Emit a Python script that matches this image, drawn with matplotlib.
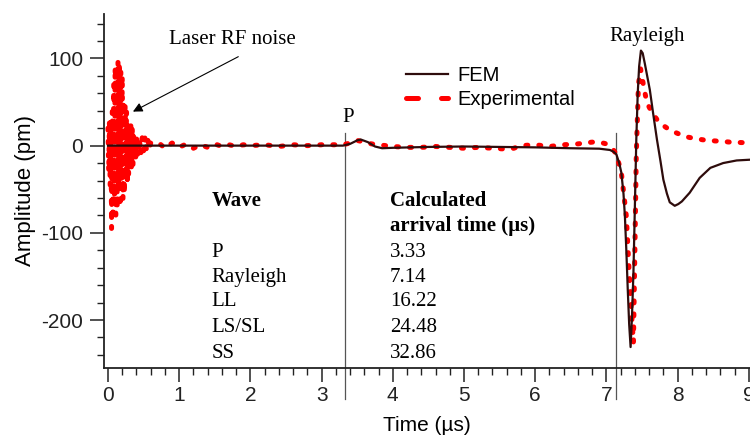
import numpy as np
import matplotlib
matplotlib.use('Agg')
import matplotlib.pyplot as plt
from matplotlib.ticker import MultipleLocator
from matplotlib.lines import Line2D

plt.rcParams['font.family'] = ['Liberation Sans', 'DejaVu Sans']
plt.rcParams['axes.unicode_minus'] = False

# Experimental signal (pm)
t_exp = [0.00, 0.01, 0.02, 0.03, 0.04, 0.05, 0.06, 0.07, 0.08, 0.09,
         0.10, 0.11, 0.12, 0.13, 0.14, 0.15, 0.16, 0.17, 0.18, 0.19,
         0.20, 0.21, 0.22, 0.23, 0.24, 0.25, 0.26, 0.27, 0.28, 0.29,
         0.30, 0.31, 0.32, 0.33, 0.34, 0.35, 0.36, 0.37, 0.38, 0.39,
         0.40, 0.42, 0.44, 0.46, 0.48, 0.50, 0.52, 0.54, 0.56, 0.58,
         0.60, 0.70, 0.80, 0.90, 1.00, 1.10, 1.20, 1.30, 1.40, 1.50,
         1.60, 1.70, 1.80, 1.90, 2.00, 2.20, 2.40, 2.60, 2.80, 3.00,
         3.20, 3.30, 3.40, 3.50, 3.60, 3.70, 3.80, 3.90, 4.00, 4.20,
         4.40, 4.60, 4.80, 5.00, 5.20, 5.40, 5.60, 5.70, 5.80, 6.00,
         6.20, 6.40, 6.60, 6.80, 6.90, 7.00, 7.10, 7.14, 7.21, 7.28,
         7.32, 7.355, 7.38, 7.40, 7.42, 7.45, 7.48, 7.53, 7.57, 7.64,
         7.71, 7.80, 7.89, 8.00, 8.13, 8.25, 8.41, 8.60, 8.74, 8.90, 9.05]
a_exp = [20, -30, 26, -46, 28, -95, 40, -85, 70, -60,
         90, -80, 60, -72, 98, -50, 95, -70, 85, -40,
         80, -62, 50, -55, 45, -30, 40, -45, 25, -35,
         20, -20, 26, -28, 22, -24, 14, -10, 12, -14,
         10, -12, 8, -10, 9, -6, 10, -5, 6, -4,
         3, 4, -3, 3, -2, 2, -3, 1, -2, 2,
         -1, 1, -1, 1, 0, 1, -1, 1, 0, 1,
         1, 1, 3, 6, 4, 2, 1, 0, -1, -2,
         -2, -1, -2, -3, -2, -3, -4, -3, 0, 1,
         -1, 1, 2, 4, 4, 2, -5, -10, -31, -81,
         -145, -195, -226, -120, -10, 70, 88, 65, 49, 38,
         30, 23, 18, 14, 10, 8, 6, 5, 4, 3.5, 3]

# FEM simulation (pm)
t_fem = [0.0, 0.5, 1.0, 2.0, 3.0, 3.3, 3.4, 3.5, 3.55, 3.65,
         3.75, 3.85, 4.0, 4.5, 5.0, 5.5, 6.0, 6.5, 6.9, 7.05,
         7.1, 7.14, 7.18, 7.21, 7.24, 7.26, 7.28, 7.30, 7.32, 7.34,
         7.36, 7.38, 7.40, 7.42, 7.44, 7.46, 7.485, 7.51, 7.54, 7.61,
         7.66, 7.71, 7.76, 7.80, 7.85, 7.89, 7.96, 8.01, 8.06, 8.17,
         8.31, 8.46, 8.64, 8.83, 9.05]
a_fem = [0, 0, 0, 0, 0, 0, 2, 6, 7, 4,
         -1, -3, -2.5, -1.5, -1, -1.5, -2, -3, -3.5, -5,
         -7, -10, -20, -31, -55, -81, -120, -165, -205, -231,
         -195, -145, -70, 7, 60, 91, 109, 106, 94, 64,
         35, 7, -18, -39, -55, -65, -69, -67, -64, -54,
         -37, -25.5, -20, -17, -16]

# arrival times table
waves = ['P', 'Rayleigh', 'LL', 'LS/SL', 'SS']
arrivals = ['3.33', '7.14', '16.22', '24.48', '32.86']
markers_t = [3.33, 7.14]

fem_color = '#2e0c0c'
exp_color = '#ff0000'

fig = plt.figure(figsize=(7.5, 4.36), dpi=100)
ax = fig.add_axes([0.1387, 0.156, 0.8613, 0.812])

ax.plot(t_fem, a_fem, color=fem_color, lw=1.6, zorder=4)
ax.plot(t_exp, a_exp, color=exp_color, lw=3.6, ls=(0, (0.4, 2.2)),
        dash_capstyle='round', zorder=3)

for tm in markers_t:
    ax.plot([tm, tm], [14, -290], color='#555555', lw=0.9, clip_on=False, zorder=2)

ax.set_xlim(-0.056, 9.017)
ax.set_ylim(-255, 151)
ax.spines['top'].set_visible(False)
ax.spines['right'].set_visible(False)
for s in ['left', 'bottom']:
    ax.spines[s].set_linewidth(1.3)
    ax.spines[s].set_color('#222222')

ax.xaxis.set_major_locator(MultipleLocator(1))
ax.xaxis.set_minor_locator(MultipleLocator(0.2))
ax.yaxis.set_major_locator(MultipleLocator(100))
ax.yaxis.set_minor_locator(MultipleLocator(20))
ax.tick_params(which='major', direction='out', length=10, width=1.1,
               labelsize=15, colors='#222222')
ax.tick_params(axis='x', which='major', pad=3)
ax.tick_params(axis='y', which='major', pad=5)
ax.tick_params(which='minor', direction='out', length=5, width=1.0, colors='#222222')
ax.set_xlabel('Time (µs)', fontsize=15, labelpad=8)
ax.set_ylabel('Amplitude (pm)', fontsize=16, labelpad=4)

serif = ['Liberation Serif', 'DejaVu Serif']
ax.text(1.74, 122, 'Laser RF noise', family=serif, fontsize=15, ha='center', va='center')
ax.annotate('', xy=(0.35, 39), xytext=(1.83, 102),
            arrowprops=dict(arrowstyle='-|>', color='black', lw=0.8,
                            mutation_scale=14, shrinkA=0, shrinkB=0))
ax.text(3.37, 32, 'P', family=serif, fontsize=15, ha='center', va='center')
ax.text(7.57, 125, 'Rayleigh', family=serif, fontsize=15, ha='center', va='center')

ax.text(1.45, -63, 'Wave', family=serif, fontsize=15, fontweight='bold', va='center')
ax.text(3.96, -63, 'Calculated', family=serif, fontsize=15, fontweight='bold', va='center')
ax.text(3.96, -92, 'arrival time (µs)', family=serif, fontsize=15, fontweight='bold', va='center')
row_y = [-123, -151, -179, -209, -238]
for w, at, yy in zip(waves, arrivals, row_y):
    ax.text(1.45, yy, w, family=serif, fontsize=15, va='center')
    ax.text(3.96, yy, at, family=serif, fontsize=15, va='center')

handles = [Line2D([], [], color=fem_color, lw=1.6),
           Line2D([], [], color=exp_color, lw=3.6, ls=(0, (2.4, 4.6)),
                  dash_capstyle='round')]
ax.legend(handles, ['FEM', 'Experimental'], loc='upper left',
          bbox_to_anchor=(0.455, 0.875), frameon=False,
          fontsize=14.5, handlelength=2.1, handletextpad=0.45, labelspacing=0.25,
          borderaxespad=0)

fig.savefig('out.png', dpi=100)
